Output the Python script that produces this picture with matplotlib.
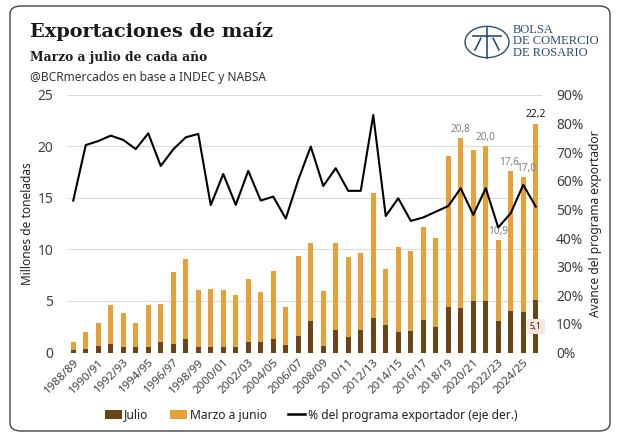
import matplotlib

matplotlib.use("Agg")

import matplotlib.pyplot as plt
import numpy as np
from matplotlib.lines import Line2D
from matplotlib.patches import Circle, FancyBboxPatch, Patch
from matplotlib.ticker import FuncFormatter, MultipleLocator

campaigns = [
    "1988/89", "1989/90", "1990/91", "1991/92", "1992/93", "1993/94", "1994/95",
    "1995/96", "1996/97", "1997/98", "1998/99", "1999/00", "2000/01", "2001/02",
    "2002/03", "2003/04", "2004/05", "2005/06", "2006/07", "2007/08", "2008/09",
    "2009/10", "2010/11", "2011/12", "2012/13", "2013/14", "2014/15", "2015/16",
    "2016/17", "2017/18", "2018/19", "2019/20", "2020/21", "2021/22", "2022/23",
    "2023/24", "2024/25", "2025/26",
]
# total marzo-julio (Mt) and julio part (Mt)
total_mt = [
    1.0, 2.0, 2.9, 4.6, 3.8, 2.9, 4.6, 4.75, 7.8, 9.1, 6.05, 6.2, 6.05, 5.6,
    7.1, 5.85, 7.95, 4.45, 9.4, 10.6, 6.0, 10.65, 9.3, 9.7, 15.45, 8.15,
    10.2, 9.9, 12.2, 11.1, 19.1, 20.8, 19.7, 20.0, 10.9, 17.6, 17.0, 22.2,
]
julio_mt = [
    0.25, 0.3, 0.6, 0.85, 0.5, 0.5, 0.55, 1.05, 0.85, 1.35, 0.5, 0.55, 0.55, 0.5,
    1.05, 1.05, 1.35, 0.7, 1.6, 3.05, 0.65, 2.2, 1.5, 2.15, 3.35, 2.7,
    2.0, 2.05, 3.15, 2.5, 4.45, 4.3, 5.0, 5.0, 3.05, 4.0, 3.95, 5.1,
]
avance_pct = [
    53.1, 72.5, 73.9, 75.8, 74.3, 71.1, 76.6, 65.2, 71.0, 75.2, 76.4, 51.5, 62.4,
    51.6, 63.5, 53.1, 54.5, 46.8, 60.3, 72.0, 58.2, 64.4, 56.5, 56.5, 83.0, 47.7,
    53.9, 46.0, 47.2, 49.2, 51.2, 57.4, 48.1, 57.4, 43.7, 48.7, 58.6, 51.0,
]
labelled = ["2019/20", "2021/22", "2022/23", "2023/24", "2024/25"]
label_nudge = {"2023/24": -0.15, "2024/25": 0.2}

BROWN = "#6b4416"
ORANGE = "#e8a136"
NAVY = "#2b4a78"
TXT = "#404040"
SANS = ["Noto Sans", "DejaVu Sans"]
SERIF = ["DejaVu Serif"]

plt.rcParams["font.family"] = SANS

fig = plt.figure(figsize=(6.22, 4.42), dpi=100)
fig.patches.append(FancyBboxPatch(
    (10 / 622, 11 / 442), 600 / 622, 425 / 442,
    boxstyle="round,pad=0,rounding_size=0.018", transform=fig.transFigure,
    facecolor="none", edgecolor="#444444", linewidth=1.0,
))

ax = fig.add_axes([67 / 622, 89.5 / 442, 475 / 622, 257.5 / 442])
x = np.arange(len(campaigns))
marzo_junio = np.array(total_mt) - np.array(julio_mt)
ax.bar(x, julio_mt, width=0.42, color=BROWN, zorder=3)
ax.bar(x, marzo_junio, bottom=julio_mt, width=0.42, color=ORANGE, zorder=3)

ax.set_xlim(-0.5, len(campaigns) - 0.5)
ax.set_ylim(0, 25)
ax.yaxis.set_major_locator(MultipleLocator(5))
ax.grid(axis="y", color="#dcdcdc", linewidth=0.8, zorder=0)
for side in ax.spines.values():
    side.set_visible(False)
ax.tick_params(length=0, colors=TXT, labelsize=10)
ax.tick_params(axis="y", pad=10)
ax.set_xticks(x[::2])
ax.set_xticklabels(campaigns[::2], rotation=45, ha="right", rotation_mode="anchor",
                   fontsize=8.3, color=TXT)
ax.tick_params(axis="x", pad=3)
ax.set_ylabel("Millones de toneladas", fontsize=8.6, color="#222222")
ax.yaxis.set_label_coords(-0.07, 0.5)

ax2 = ax.twinx()
ax2.plot(x, np.array(avance_pct) / 100, color="black", linewidth=1.5, zorder=4)
ax2.set_ylim(0, 0.9)
ax2.yaxis.set_major_locator(MultipleLocator(0.1))
ax2.yaxis.set_major_formatter(FuncFormatter(lambda v, _: f"{v * 100:.0f}%"))
for side in ax2.spines.values():
    side.set_visible(False)
ax2.tick_params(length=0, colors=TXT, labelsize=10, pad=10)
ax2.set_ylabel("Avance del programa exportador", fontsize=8.6, color="#222222")
ax2.yaxis.set_label_coords(1.098, 0.5)

for name in labelled:
    i = campaigns.index(name)
    ax.text(x[i] + label_nudge.get(name, 0), total_mt[i] + 0.35,
            f"{total_mt[i]:.1f}".replace(".", ","),
            ha="center", va="bottom", fontsize=7.2, color="#7f7f7f", zorder=5)
last = len(campaigns) - 1
ax.text(x[last], total_mt[last] + 0.35, f"{total_mt[last]:.1f}".replace(".", ","),
        ha="center", va="bottom", fontsize=7.5, color="#222222", fontweight="bold", zorder=5)
ax.text(x[last], julio_mt[last] / 2, f"{julio_mt[last]:.1f}".replace(".", ","),
        ha="center", va="center", fontsize=6, color="#222222", fontweight="bold", zorder=5,
        bbox=dict(boxstyle="square,pad=0.35", facecolor="#fbe6dc", edgecolor="none"))

fig.text(30 / 622, 1 - 37 / 442, "Exportaciones de maíz", family=SERIF, fontsize=13.9,
         fontweight="bold", color="#1a1a1a", va="baseline")
fig.text(30 / 622, 1 - 61 / 442, "Marzo a julio de cada año", family=SERIF, fontsize=8.8,
         fontweight="bold", color="#1a1a1a", va="baseline")
fig.text(30 / 622, 1 - 81 / 442, "@BCRmercados en base a INDEC y NABSA", fontsize=8.6,
         color="#333333", va="baseline")

# logo
lx, ly = 487 / 622, 1 - 42 / 442
fig.patches.append(Circle((lx, ly), 22 / 622, transform=fig.transFigure,
                          facecolor="none", edgecolor=NAVY, linewidth=1.0))
fig.add_artist(Line2D([lx, lx], [ly - 16 / 442, ly + 14 / 442], color=NAVY, lw=1.2))
fig.add_artist(Line2D([lx - 14 / 622, lx + 14 / 622], [ly + 6 / 442, ly + 6 / 442],
                      color=NAVY, lw=1.2))
fig.add_artist(Line2D([lx - 12 / 622, lx - 6 / 622, lx - 12 / 622],
                      [ly - 8 / 442, ly + 4 / 442, ly - 8 / 442], color=NAVY, lw=0.8))
fig.add_artist(Line2D([lx + 12 / 622, lx + 6 / 622, lx + 12 / 622],
                      [ly - 8 / 442, ly + 4 / 442, ly - 8 / 442], color=NAVY, lw=0.8))
for k, line in enumerate(["BOLSA", "DE COMERCIO", "DE ROSARIO"]):
    fig.text(513 / 622, 1 - (30 + 11.5 * k) / 442, line, family=["Liberation Serif"],
             fontsize=9, color=NAVY, va="center")

handles = [
    Patch(facecolor=BROWN, label="Julio"),
    Patch(facecolor=ORANGE, label="Marzo a junio"),
    Line2D([], [], color="black", linewidth=1.8, label="% del programa exportador (eje der.)"),
]
fig.legend(handles=handles, loc="center", bbox_to_anchor=(0.5, 1 - 415 / 442), ncol=3,
           frameon=False, fontsize=8.7, handlelength=1.4, handleheight=0.7,
           handletextpad=0.2, columnspacing=1.8, labelcolor="#222222")

fig.savefig("out.png", dpi=100)
